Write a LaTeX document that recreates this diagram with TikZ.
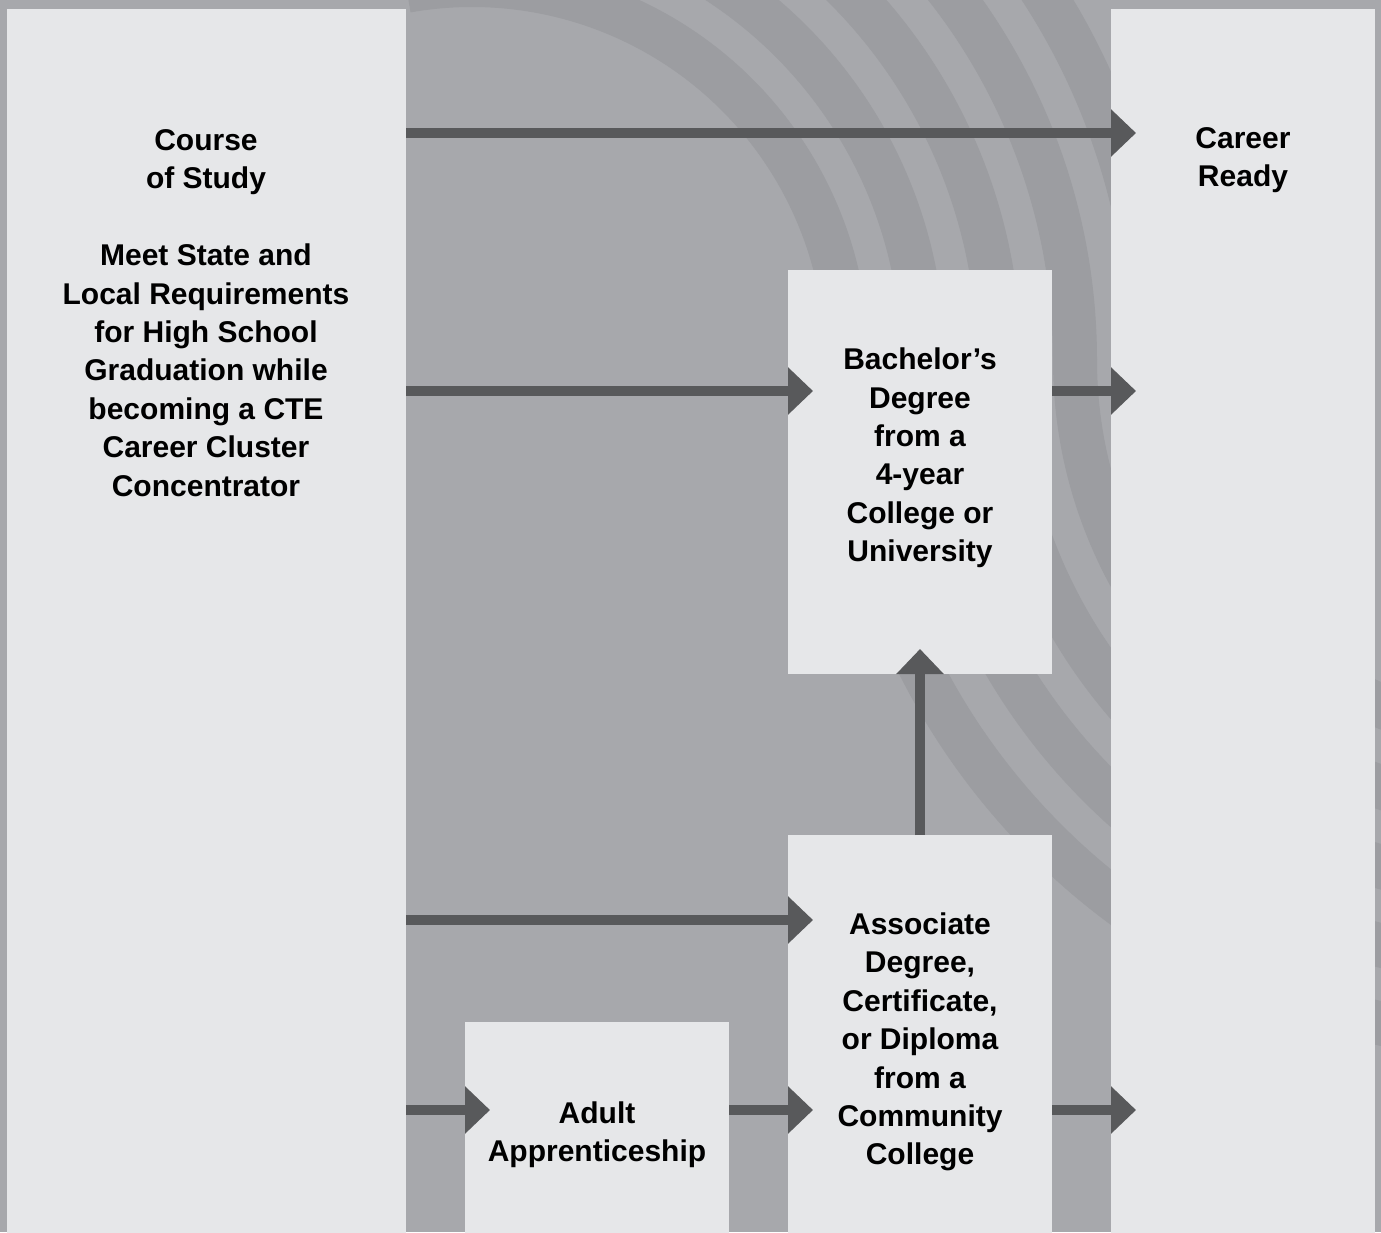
\documentclass[tikz,border=0pt]{standalone}
\usepackage{fontspec}
\setmainfont{Liberation Sans}
\usepackage{tikz}
\usetikzlibrary{arrows.meta,positioning}
\definecolor{backg}{RGB}{167,168,172}
\definecolor{ring}{RGB}{156,157,161}
\definecolor{panelc}{RGB}{230,231,233}
\definecolor{flowc}{RGB}{88,89,91}
\tikzstyle{box} = [fill=panelc, inner sep=0pt, outer sep=0pt, anchor=north west]
\tikzstyle{flow} = [draw=flowc, line width=5pt, -{Triangle[length=12.5pt,width=23pt]}, shorten >=-12.5pt]
\tikzstyle{txt} = [align=center, font=\fontsize{15}{19.2}\selectfont\bfseries]

\begin{document}
\begin{tikzpicture}[x=0.5pt,y=-0.5pt]
        \useasboundingbox (0,0) rectangle (1381,1232);
        \clip (0,0) rectangle (1381,1232);
        \fill[backg] (0,0) rectangle (1381,1232);
        \foreach \r in {375,451,...,679} {
            \draw[ring, line width=22pt] (472+\r,360) arc[start angle=0, end angle=-100, radius=\r];
            \draw[ring, line width=22pt] (472+\r,360) arc[start angle=180, end angle=90, radius=1054-\r];
        }

        \node[box, minimum width=199.5pt, minimum height=620pt] (course) at (7,9) {};
        \node[box, minimum width=132pt, minimum height=620pt] (career) at (1111,9) {};
        \node[box, minimum width=132pt, minimum height=202pt] (bachelor) at (788,270) {};
        \node[box, minimum width=132pt, minimum height=205pt] (associate) at (788,835) {};
        \node[box, minimum width=132pt, minimum height=110pt] (adult) at (465,1022) {};

        \node[txt] (coursetxt) at (206,313) {Course\\of Study\\[19.2pt]Meet State and\\Local Requirements\\for High School\\Graduation while\\becoming a CTE\\Career Cluster\\Concentrator};
        \node[txt] (careertxt) at (1243,160) {Career\\Ready};
        \node[txt] (bachelortxt) at (920,458) {Bachelor’s\\Degree\\from a\\4-year\\College or\\University};
        \node[txt] (associatetxt) at (920,1042) {Associate\\Degree,\\Certificate,\\or Diploma\\from a\\Community\\College};
        \node[txt] (adulttxt) at (597,1135) {Adult\\Apprenticeship};

        \coordinate (row1) at (0,133);
        \coordinate (row2) at (0,391);
        \coordinate (row3) at (0,920);
        \coordinate (row4) at (0,1110);
        \draw[flow] (course.east |- row1) -- (career.west |- row1);
        \draw[flow] (course.east |- row2) -- (bachelor.west |- row2);
        \draw[flow] (bachelor.east |- row2) -- (career.west |- row2);
        \draw[flow] (course.east |- row3) -- (associate.west |- row3);
        \draw[flow] (course.east |- row4) -- (adult.west |- row4);
        \draw[flow] (adult.east |- row4) -- (associate.west |- row4);
        \draw[flow] (associate.east |- row4) -- (career.west |- row4);
        \draw[flow] (associate.north) -- (bachelor.south);
\end{tikzpicture}
\end{document}
